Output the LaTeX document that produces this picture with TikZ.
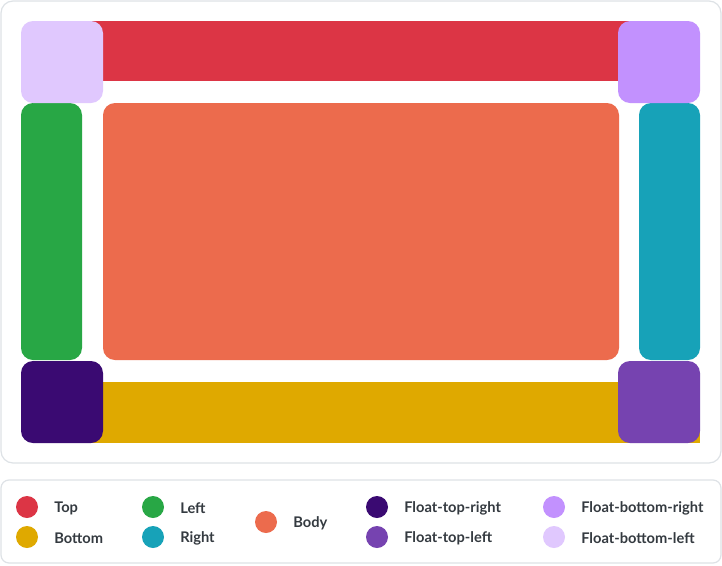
\documentclass[tikz,border=0pt]{standalone}
\usepackage{fontspec}
\setmainfont{Lato}
\definecolor{cTop}{HTML}{DC3545}
\definecolor{cBottom}{HTML}{DFA900}
\definecolor{cLeft}{HTML}{28A745}
\definecolor{cRight}{HTML}{17A2B8}
\definecolor{cBody}{HTML}{EC6B4D}
\definecolor{cFTR}{HTML}{3A0A72}
\definecolor{cFTL}{HTML}{7643B0}
\definecolor{cFBR}{HTML}{C291FE}
\definecolor{cFBL}{HTML}{E0C8FE}
\definecolor{cBorder}{HTML}{DEE2E6}
\definecolor{cText}{HTML}{343A40}
\tikzset{
  panel/.style={draw=cBorder, line width=0.9pt, fill=white},
  region/.style={rounded corners=9pt},
  dot/.style={circle, inner sep=0pt, minimum size=16.5pt},
  lab/.style={anchor=west, inner sep=0pt, text=cText, font=\bfseries\fontsize{11}{13}\selectfont}
}
\begin{document}
\begin{tikzpicture}[x=0.75pt, y=-0.75pt]
\useasboundingbox (0,0) rectangle (722,565);
% panels
\draw[panel, rounded corners=9pt] (1,1) rectangle (721,463);
\draw[panel, rounded corners=6pt] (1,480) rectangle (721,563);
% regions
\fill[cTop] (60,21) rectangle (660,81);
\fill[cBottom] (60,382) rectangle (699.5,443);
\fill[cLeft, region] (21,103) rectangle (82,360);
\fill[cRight, region] (639,103) rectangle (700,360);
\fill[cBody, region] (103,103) rectangle (619,360);
\fill[cFBL, region] (21,21) rectangle (103,103);
\fill[cFBR, region] (618,21) rectangle (700,103);
\fill[cFTR, region] (21,361) rectangle (103,443);
\fill[cFTL, region] (618,361) rectangle (700,443);
% legend
\node[dot, fill=cTop] (dTop) at (27,507) {};
\node[lab] (lTop) at (54,508) {Top};
\node[dot, fill=cBottom] (dBottom) at (27,537) {};
\node[lab] (lBottom) at (54,538) {Bottom};
\node[dot, fill=cLeft] (dLeft) at (153,507) {};
\node[lab] (lLeft) at (180,508) {Left};
\node[dot, fill=cRight] (dRight) at (153,537) {};
\node[lab] (lRight) at (180,538) {Right};
\node[dot, fill=cBody] (dBody) at (266,522) {};
\node[lab] (lBody) at (293,523) {Body};
\node[dot, fill=cFTR] (dFTR) at (377,507) {};
\node[lab] (lFTR) at (404,508) {Float-top-right};
\node[dot, fill=cFTL] (dFTL) at (377,537) {};
\node[lab] (lFTL) at (404,538) {Float-top-left};
\node[dot, fill=cFBR] (dFBR) at (554,507) {};
\node[lab] (lFBR) at (581,508) {Float-bottom-right};
\node[dot, fill=cFBL] (dFBL) at (554,537) {};
\node[lab] (lFBL) at (581,538) {Float-bottom-left};
\end{tikzpicture}
\end{document}
